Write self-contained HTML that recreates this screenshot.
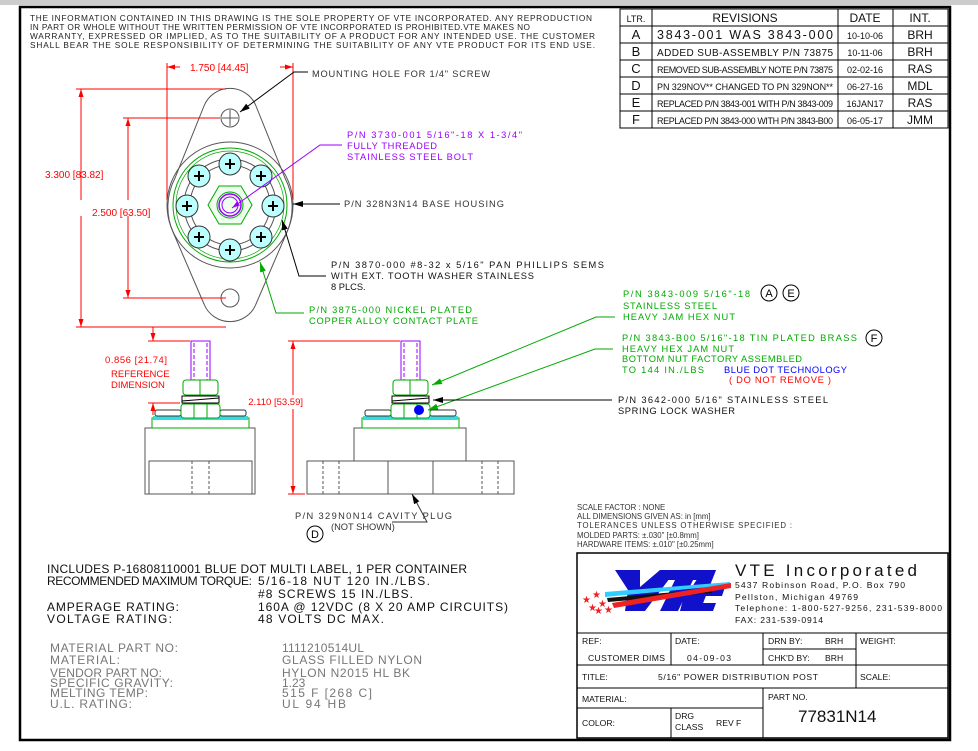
<!DOCTYPE html>
<html><head><meta charset="utf-8"><style>
html,body{margin:0;padding:0;background:#fff;}
svg{display:block;}
text{font-family:"Liberation Sans",sans-serif;}
</style></head><body>
<svg width="978" height="751" viewBox="0 0 978 751" xmlns="http://www.w3.org/2000/svg">
<defs>
<marker id="ab" markerWidth="10" markerHeight="6" refX="10" refY="3" orient="auto" markerUnits="userSpaceOnUse"><path d="M0,0L10,3L0,6z" fill="#000"/></marker>
<marker id="ar" markerWidth="8" markerHeight="5" refX="8" refY="2.5" orient="auto" markerUnits="userSpaceOnUse"><path d="M0,0L8,2.5L0,5z" fill="#f00"/></marker>
<marker id="ag" markerWidth="10" markerHeight="6" refX="10" refY="3" orient="auto" markerUnits="userSpaceOnUse"><path d="M0,0L10,3L0,6z" fill="#0a0"/></marker>
<marker id="ap" markerWidth="8" markerHeight="5" refX="8" refY="2.5" orient="auto" markerUnits="userSpaceOnUse"><path d="M0,0L8,2.5L0,5z" fill="#90f"/></marker>
</defs>
<rect x="0" y="0" width="978" height="5" fill="#ccc"/>
<rect x="20" y="7" width="930" height="733" fill="none" stroke="#000" stroke-width="2.5"/>

<g font-size="8.3" fill="#222">
<text x="30" y="21" textLength="562">THE INFORMATION CONTAINED IN THIS DRAWING IS THE SOLE PROPERTY OF VTE INCORPORATED. ANY REPRODUCTION</text>
<text x="30" y="30" textLength="500">IN PART OR WHOLE WITHOUT THE WRITTEN PERMISSION OF VTE INCORPORATED IS PROHIBITED.VTE MAKES NO</text>
<text x="30" y="39" textLength="565">WARRANTY, EXPRESSED OR IMPLIED, AS TO THE SUITABILITY OF A PRODUCT FOR ANY INTENDED USE. THE CUSTOMER</text>
<text x="30" y="48" textLength="565">SHALL BEAR THE SOLE RESPONSIBILITY OF DETERMINING THE SUITABILITY OF ANY VTE PRODUCT FOR ITS END USE.</text>
</g>

<g stroke="#000" stroke-width="1" fill="none">
<rect x="620" y="9" width="328" height="119"/>
<line x1="620" y1="26" x2="948" y2="26"/><line x1="620" y1="43" x2="948" y2="43"/><line x1="620" y1="60" x2="948" y2="60"/><line x1="620" y1="77" x2="948" y2="77"/><line x1="620" y1="94" x2="948" y2="94"/><line x1="620" y1="111" x2="948" y2="111"/>
<line x1="652" y1="9" x2="652" y2="128"/><line x1="838" y1="9" x2="838" y2="128"/><line x1="893" y1="9" x2="893" y2="128"/>
</g>
<g font-size="11" fill="#111" text-anchor="middle">
<text x="636" y="22" font-size="9">LTR.</text><text x="745" y="22" font-size="12">REVISIONS</text><text x="865" y="22" font-size="12">DATE</text><text x="920" y="22" font-size="12">INT.</text>
<text x="636" y="39" font-size="13">A</text><text x="636" y="56" font-size="13">B</text><text x="636" y="73" font-size="13">C</text><text x="636" y="90" font-size="13">D</text><text x="636" y="107" font-size="13">E</text><text x="636" y="124" font-size="13">F</text>
<text x="745" y="39" font-size="12.5" textLength="176">3843-001 WAS 3843-000</text>
<text x="745" y="56" font-size="10" textLength="176">ADDED SUB-ASSEMBLY P/N 73875</text>
<text x="745" y="73" font-size="9" textLength="176">REMOVED SUB-ASSEMBLY NOTE P/N 73875</text>
<text x="745" y="90" font-size="9" textLength="176">PN 329NOV** CHANGED TO PN 329NON**</text>
<text x="745" y="107" font-size="9" textLength="176">REPLACED P/N 3843-001 WITH P/N 3843-009</text>
<text x="745" y="124" font-size="9" textLength="176">REPLACED P/N 3843-000 WITH P/N 3843-B00</text>
<text x="865" y="39" font-size="9">10-10-06</text><text x="865" y="56" font-size="9">10-11-06</text><text x="865" y="73" font-size="9">02-02-16</text><text x="865" y="90" font-size="9">06-27-16</text><text x="865" y="107" font-size="9">16JAN17</text><text x="865" y="124" font-size="9">06-05-17</text>
<text x="920" y="39" font-size="12">BRH</text><text x="920" y="56" font-size="12">BRH</text><text x="920" y="73" font-size="12">RAS</text><text x="920" y="90" font-size="12">MDL</text><text x="920" y="107" font-size="12">RAS</text><text x="920" y="124" font-size="12">JMM</text>
</g>

<g fill="none" stroke="#555" stroke-width="1">
<path d="M204,106 A28,28 0 0 1 256,106 L285,178 A63,63 0 0 1 287,232 L256,304 A28,28 0 0 1 204,304 L173,232 A63,63 0 0 1 175,178 Z"/>
<circle cx="230" cy="205" r="63"/>
<circle cx="230" cy="118" r="9"/><line x1="222" y1="118" x2="238" y2="118"/><line x1="230" y1="110" x2="230" y2="126"/>
<circle cx="230" cy="298" r="9"/>
<circle cx="230" cy="205" r="46"/><circle cx="230" cy="205" r="40"/>
</g>
<circle cx="230" cy="205" r="57" fill="none" stroke="#0a0" stroke-width="1"/>
<circle cx="230" cy="205" r="54" fill="none" stroke="#0a0" stroke-width="0.7"/>
<g stroke="#333" stroke-width="1" fill="#bff">
<circle cx="230" cy="164" r="11"/><circle cx="261" cy="176" r="11"/><circle cx="273" cy="206" r="11"/><circle cx="261" cy="237" r="11"/><circle cx="230" cy="250" r="11"/><circle cx="199" cy="237" r="11"/><circle cx="187" cy="206" r="11"/><circle cx="199" cy="176" r="11"/>
</g>
<g stroke="#000" stroke-width="2">
<path d="M225,164h10M230,159v10M256,176h10M261,171v10M268,206h10M273,201v10M256,237h10M261,232v10M225,250h10M230,245v10M194,237h10M199,232v10M182,206h10M187,201v10M194,176h10M199,171v10"/>
</g>
<polygon points="208,205 219,186 241,186 252,205 241,224 219,224" fill="#efe" stroke="#0a0"/>
<circle cx="230" cy="205" r="13" fill="none" stroke="#0a0"/>
<circle cx="230" cy="205" r="11" fill="none" stroke="#90f" stroke-width="1.5"/>
<circle cx="230" cy="205" r="8" fill="none" stroke="#90f"/>

<g stroke="#f00" stroke-width="1" fill="none">
<line x1="167" y1="63" x2="167" y2="200"/><line x1="293" y1="63" x2="293" y2="200"/>
<line x1="180" y1="67" x2="167" y2="67" marker-end="url(#ar)"/><line x1="280" y1="67" x2="293" y2="67" marker-end="url(#ar)"/>
<line x1="76" y1="89" x2="226" y2="89"/><line x1="76" y1="327" x2="226" y2="327"/>
<line x1="81" y1="200" x2="81" y2="89" marker-end="url(#ar)"/><line x1="81" y1="216" x2="81" y2="327" marker-end="url(#ar)"/>
<line x1="123" y1="118" x2="220" y2="118"/><line x1="123" y1="298" x2="226" y2="298"/>
<line x1="128" y1="200" x2="128" y2="118" marker-end="url(#ar)"/><line x1="128" y1="216" x2="128" y2="298" marker-end="url(#ar)"/>
</g>
<g fill="#f00" font-size="10">
<text x="190" y="71">1.750 [44.45]</text>
<text x="45" y="178">3.300 [83.82]</text>
<text x="92" y="216">2.500 [63.50]</text>
</g>

<g fill="none" stroke-width="1">
<polyline points="308,72 294,72 240,112" stroke="#000" marker-end="url(#ab)"/>
<polyline points="342,145 320,145 232,208" stroke="#90f" marker-end="url(#ap)"/>
<line x1="340" y1="204" x2="293" y2="204" stroke="#000" marker-end="url(#ab)"/>
<polyline points="326,276 299,276 282,220" stroke="#000" marker-end="url(#ab)"/>
<polyline points="304,313 276,313 260,262" stroke="#0a0" marker-end="url(#ag)"/>
</g>
<g font-size="9.3">
<text x="312" y="77" fill="#333" textLength="178">MOUNTING HOLE FOR 1/4" SCREW</text>
<text x="347" y="138" fill="#90f" textLength="175">P/N 3730-001 5/16"-18 X 1-3/4"</text>
<text x="347" y="149" fill="#90f" textLength="90">FULLY THREADED</text>
<text x="347" y="160" fill="#90f" textLength="126">STAINLESS STEEL BOLT</text>
<text x="344" y="207" fill="#333" textLength="160">P/N 328N3N14  BASE HOUSING</text>
<text x="331" y="268" fill="#111" textLength="273">P/N 3870-000 #8-32 x 5/16" PAN PHILLIPS SEMS</text>
<text x="331" y="279" fill="#111" textLength="203">WITH EXT. TOOTH WASHER STAINLESS</text>
<text x="331" y="290" fill="#111">8 PLCS.</text>
<text x="309" y="313" fill="#0a0" textLength="163">P/N 3875-000 NICKEL PLATED</text>
<text x="309" y="324" fill="#0a0" textLength="169">COPPER ALLOY CONTACT PLATE</text>
</g>

<g fill="none" stroke="#555" stroke-width="1">
<rect x="145" y="428" width="110" height="66"/>
<rect x="149" y="461" width="103" height="33"/>
<line x1="192" y1="461" x2="192" y2="494" stroke-dasharray="3,2"/><line x1="209" y1="461" x2="209" y2="494" stroke-dasharray="3,2"/>
</g>
<rect x="152" y="418" width="97" height="10" fill="#fff" stroke="#0a0"/>
<rect x="153" y="416" width="95" height="4" fill="#3dd"/>
<g fill="#fff" stroke="#333"><rect x="155" y="410" width="26" height="6" rx="2"/><rect x="220" y="410" width="26" height="6" rx="2"/></g>
<rect x="191" y="341" width="19" height="39" fill="#fff" stroke="#90f"/>
<line x1="194" y1="343" x2="194" y2="380" stroke="#90f" stroke-dasharray="4,2"/><line x1="207" y1="343" x2="207" y2="380" stroke="#90f" stroke-dasharray="4,2"/>
<g fill="#fff" stroke="#0a0" stroke-width="1">
<rect x="183" y="380" width="35" height="15" rx="3"/><line x1="200" y1="380" x2="200" y2="395"/>
<rect x="181" y="404" width="39" height="14" rx="3"/><line x1="194" y1="404" x2="194" y2="418"/><line x1="207" y1="404" x2="207" y2="418"/>
</g>
<rect x="182" y="396" width="37" height="7" fill="#fff" stroke="#000"/>
<line x1="182" y1="401" x2="219" y2="398" stroke="#000"/>
<g stroke="#f00" fill="none">
<line x1="148" y1="341" x2="190" y2="341"/><line x1="148" y1="403" x2="180" y2="403"/>
<line x1="153" y1="327" x2="153" y2="341" marker-end="url(#ar)"/><line x1="153" y1="415" x2="153" y2="403" marker-end="url(#ar)"/>
</g>
<g fill="#f00" font-size="9.5"><text x="105" y="363" textLength="62">0.856 [21.74]</text><text x="111" y="377">REFERENCE</text><text x="111" y="388">DIMENSION</text></g>

<g fill="none" stroke="#555" stroke-width="1">
<rect x="354" y="428" width="112" height="33"/>
<rect x="307" y="461" width="207" height="33"/>
<line x1="388" y1="461" x2="388" y2="494"/><line x1="433" y1="461" x2="433" y2="494"/>
<g stroke-dasharray="3,2"><line x1="323" y1="461" x2="323" y2="494"/><line x1="339" y1="461" x2="339" y2="494"/><line x1="482" y1="461" x2="482" y2="494"/><line x1="498" y1="461" x2="498" y2="494"/></g>
</g>
<rect x="362" y="418" width="97" height="10" fill="#fff" stroke="#0a0"/>
<rect x="363" y="416" width="95" height="4" fill="#3dd"/>
<g fill="#fff" stroke="#333"><rect x="365" y="410" width="26" height="6" rx="2"/><rect x="430" y="410" width="26" height="6" rx="2"/></g>
<rect x="401" y="341" width="19" height="39" fill="#fff" stroke="#90f"/>
<line x1="404" y1="343" x2="404" y2="380" stroke="#90f" stroke-dasharray="4,2"/><line x1="417" y1="343" x2="417" y2="380" stroke="#90f" stroke-dasharray="4,2"/>
<g fill="#fff" stroke="#0a0">
<rect x="393" y="380" width="35" height="15" rx="3"/><line x1="410" y1="380" x2="410" y2="395"/>
<rect x="391" y="404" width="39" height="14" rx="3"/><line x1="404" y1="404" x2="404" y2="418"/><line x1="417" y1="404" x2="417" y2="418"/>
</g>
<rect x="392" y="396" width="37" height="7" fill="#fff" stroke="#000"/>
<line x1="392" y1="401" x2="429" y2="398" stroke="#000"/>
<circle cx="419" cy="410" r="5" fill="#00f"/>
<g stroke="#f00" fill="none">
<line x1="288" y1="341" x2="400" y2="341"/><line x1="288" y1="494" x2="305" y2="494"/>
<line x1="293" y1="395" x2="293" y2="341" marker-end="url(#ar)"/><line x1="293" y1="409" x2="293" y2="494" marker-end="url(#ar)"/>
</g>
<text x="303" y="405" fill="#f00" font-size="9.5" text-anchor="end">2.110 [53.59]</text>

<g fill="none">
<polyline points="615,317 596,317 432,385" stroke="#0a0" marker-end="url(#ag)"/>
<polyline points="613,349 595,349 428,410" stroke="#0a0" marker-end="url(#ag)"/>
<line x1="612" y1="400" x2="433" y2="400" stroke="#000" marker-end="url(#ab)"/>
<polyline points="392,522 427,522 412,494" stroke="#333" marker-end="url(#ab)"/>
</g>
<g font-size="9.3">
<g fill="#0a0">
<text x="623" y="297" textLength="127">P/N 3843-009 5/16"-18</text>
<text x="623" y="309" textLength="94">STAINLESS STEEL</text>
<text x="623" y="320" textLength="112">HEAVY JAM HEX NUT</text>
<text x="622" y="341" textLength="235">P/N 3843-B00 5/16"-18 TIN PLATED BRASS</text>
<text x="622" y="352" textLength="112">HEAVY HEX JAM NUT</text>
<text x="622" y="362" textLength="180">BOTTOM NUT FACTORY ASSEMBLED</text>
<text x="622" y="373" textLength="82">TO 144 IN./LBS</text>
</g>
<text x="724" y="373" fill="#00f" textLength="123">BLUE DOT TECHNOLOGY</text>
<text x="729" y="383" fill="#f00" textLength="102">( DO NOT REMOVE )</text>
<text x="618" y="403" fill="#111" textLength="210">P/N 3642-000 5/16" STAINLESS STEEL</text>
<text x="618" y="414" fill="#111" textLength="117">SPRING LOCK WASHER</text>
<text x="295" y="519" fill="#333" textLength="157">P/N 329N0N14  CAVITY PLUG</text>
<text x="331" y="530" fill="#333">(NOT SHOWN)</text>
</g>
<g fill="none" stroke="#000"><circle cx="769" cy="293" r="8"/><circle cx="791" cy="293" r="8"/><circle cx="874" cy="338" r="8"/><circle cx="315" cy="534" r="8"/></g>
<g font-size="11" text-anchor="middle" fill="#000"><text x="769" y="297">A</text><text x="791" y="297">E</text><text x="874" y="342">F</text><text x="315" y="538">D</text></g>

<g font-size="7.8" fill="#333">
<text x="577" y="510">SCALE FACTOR : NONE</text>
<text x="577" y="519">ALL DIMENSIONS GIVEN AS: in [mm]</text>
<text x="577" y="528" textLength="215">TOLERANCES UNLESS OTHERWISE SPECIFIED :</text>
<text x="577" y="538">MOLDED PARTS: ±.030" [±0.8mm]</text>
<text x="577" y="547">HARDWARE ITEMS: ±.010" [±0.25mm]</text>
</g>

<g font-size="12" fill="#111">
<text x="47" y="573" textLength="420">INCLUDES P-16808110001 BLUE DOT MULTI LABEL, 1 PER CONTAINER</text>
<text x="47" y="585" textLength="205">RECOMMENDED MAXIMUM TORQUE:</text><text x="258" y="585" textLength="172">5/16-18 NUT 120 IN./LBS.</text>
<text x="258" y="598" textLength="155">#8 SCREWS 15 IN./LBS.</text>
<text x="47" y="611" textLength="132">AMPERAGE RATING:</text><text x="258" y="611" textLength="250">160A @ 12VDC (8 X 20 AMP CIRCUITS)</text>
<text x="47" y="623" textLength="125">VOLTAGE RATING:</text><text x="258" y="623" textLength="126">48 VOLTS DC MAX.</text>
</g>
<g font-size="12" fill="#777">
<text x="50" y="652" textLength="128">MATERIAL PART NO:</text><text x="282" y="652" textLength="82">1111210514UL</text>
<text x="50" y="664" textLength="70">MATERIAL:</text><text x="282" y="664" textLength="140">GLASS FILLED NYLON</text>
<text x="50" y="677" textLength="112">VENDOR PART NO:</text><text x="282" y="677" textLength="128">HYLON N2015 HL BK</text>
<text x="50" y="687" textLength="123">SPECIFIC GRAVITY:</text><text x="282" y="687">1.23</text>
<text x="50" y="697" textLength="98">MELTING TEMP:</text><text x="282" y="697" textLength="90">515 F [268 C]</text>
<text x="50" y="708" textLength="82">U.L. RATING:</text><text x="282" y="708" textLength="64">UL 94 HB</text>
</g>

<g stroke="#000" fill="none">
<rect x="577" y="553" width="371" height="185" stroke-width="1.5"/>
<line x1="577" y1="633" x2="948" y2="633"/>
<line x1="763" y1="649" x2="856" y2="649"/>
<line x1="577" y1="665" x2="948" y2="665"/>
<line x1="577" y1="688" x2="948" y2="688"/>
<line x1="577" y1="708" x2="763" y2="708"/>
<line x1="671" y1="633" x2="671" y2="665"/><line x1="671" y1="708" x2="671" y2="738"/>
<line x1="763" y1="633" x2="763" y2="665"/><line x1="763" y1="688" x2="763" y2="738"/>
<line x1="856" y1="633" x2="856" y2="688"/>
</g>
<g>
<polygon points="615,570 640,570 640,587 660,570 676,570 645,611 625,611 628,590" fill="#11c"/>
<polygon points="660,570 716,570 712,580 693,580 678,611 660,611 675,580 656,580" fill="#11c"/>
<polygon points="690,590 703,570 716,570 700,611 680,611" fill="#11c"/>
<polygon points="686,587 725,587 722,596 700,596 697,603 716,603 713,611 680,611" fill="#11c"/>
<polygon points="605,592 730,582 730,585 605,597" fill="#3cf"/>
<polygon points="607,598 710,589 712,593 608,602" fill="#111"/>
<polygon points="612,603 731,583 731,588 614,608" fill="#e22"/>
<g fill="#e22" font-size="10"><text x="582" y="603">★</text><text x="592" y="598">★</text><text x="588" y="611">★</text><text x="598" y="607">★</text><text x="604" y="613">★</text><text x="594" y="614">★</text></g>
</g>
<text x="735" y="576" font-size="17" fill="#111" textLength="182">VTE Incorporated</text>
<g font-size="8.6" fill="#111">
<text x="735" y="588" textLength="170">5437 Robinson Road, P.O. Box 790</text>
<text x="735" y="600" textLength="123">Pellston, Michigan 49769</text>
<text x="735" y="611" textLength="207">Telephone: 1-800-527-9256, 231-539-8000</text>
<text x="735" y="623" textLength="88">FAX: 231-539-0914</text>
</g>
<g font-size="8.6" fill="#111">
<text x="582" y="644">REF:</text><text x="588" y="661" textLength="77">CUSTOMER DIMS</text>
<text x="675" y="644">DATE:</text><text x="687" y="661" textLength="44">04-09-03</text>
<text x="768" y="644">DRN BY:</text><text x="825" y="644">BRH</text>
<text x="768" y="661">CHK'D BY:</text><text x="825" y="661">BRH</text>
<text x="860" y="644">WEIGHT:</text>
<text x="582" y="680">TITLE:</text><text x="658" y="680" textLength="160">5/16" POWER DISTRIBUTION POST</text>
<text x="860" y="680">SCALE:</text>
<text x="582" y="702">MATERIAL:</text>
<text x="768" y="700">PART NO.</text>
<text x="582" y="726">COLOR:</text>
<text x="675" y="719">DRG</text><text x="675" y="730">CLASS</text><text x="716" y="726">REV F</text>
</g>
<text x="798" y="722" font-size="17" fill="#111">77831N14</text>
</svg>
</body></html>
